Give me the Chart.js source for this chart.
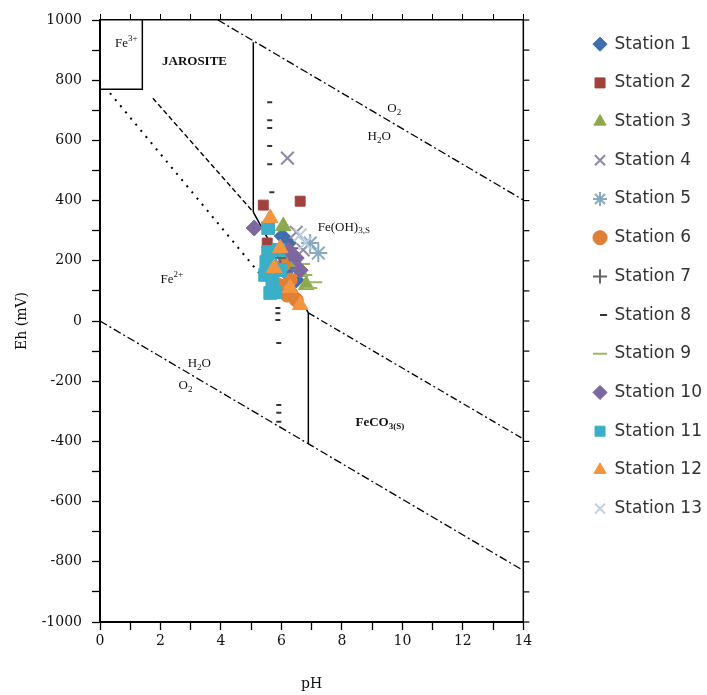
<!DOCTYPE html>
<html>
<head>
<meta charset="utf-8">
<script src="https://cdn.jsdelivr.net/npm/chart.js@4.4.1/dist/chart.umd.min.js"></script>
<style>
  body { margin: 0; background: #fff; }
  canvas { display: block; }
</style>
</head>
<body>
<canvas id="ehph" width="707" height="695"></canvas>
<script>
// field measurements, each pair is [pH, Eh in mV]
const station1 = [[6.23, 259], [6.36, 196], [6.13, 163], [6.49, 136], [6.03, 282]];
const station2 = [[5.40, 385], [6.62, 398], [5.53, 259]];
const station3 = [[6.06, 315], [6.29, 222], [6.62, 163], [6.82, 120], [6.46, 196]];
const station4 = [[6.20, 541], [6.49, 295], [6.72, 236]];
const station5 = [[7.22, 226], [6.95, 259]];
const station6 = [[6.06, 186], [6.29, 136], [6.49, 70], [5.89, 120], [6.19, 86]];
const station7 = [[5.96, 209], [6.36, 242]];
const station8 = [[5.53, 727], [5.53, 667], [5.53, 641], [5.53, 581], [5.53, 521], [5.60, 428],
                  [5.80, 43], [5.80, 26], [5.80, 3], [5.83, -73], [5.83, -279], [5.83, -305], [5.83, -335]];
const station9 = [[6.79, 153], [6.95, 110], [6.72, 189], [7.12, 129]];
const station10 = [[5.10, 309], [6.49, 209], [6.62, 169], [6.23, 236]];
const station11 = [[5.56, 309], [5.56, 229], [5.63, 186], [5.70, 136], [5.80, 96], [5.50, 196],
                   [5.96, 169], [5.90, 236], [5.46, 153], [5.63, 93]];
const station12 = [[5.63, 342], [5.96, 242], [6.29, 110], [6.62, 53], [5.76, 176]];
const station13 = [[6.79, 259], [6.62, 286]];

const stationNames = ['Station 1', 'Station 2', 'Station 3', 'Station 4', 'Station 5', 'Station 6', 'Station 7',
                      'Station 8', 'Station 9', 'Station 10', 'Station 11', 'Station 12', 'Station 13'];
const stationData = [station1, station2, station3, station4, station5, station6, station7,
                     station8, station9, station10, station11, station12, station13];

// stability field boundaries, [pH, Eh]
const fe3Boundary = [[0, 770], [1.4, 770], [1.4, 1000]];
const jarositeEdge = [[5.07, 926], [5.07, 362]];
const jarositeFe2 = [[1.75, 740], [5.07, 362]];
const fe2FeOH3 = [[5.07, 362], [6.89, 27]];
const feOH3FeCO3 = [[6.89, 27], [14, -392]];
const feCO3Fe2 = [[6.89, 27], [6.89, -408]];
const dottedEdge = [[0.33, 757], [5.4, 143]];
const waterUpper = [[3.9, 1000], [14, 402]];
const waterLower = [[0, 0], [14, -829]];

const xTicks = [0, 2, 4, 6, 8, 10, 12, 14];
const yTicks = [-1000, -800, -600, -400, -200, 0, 200, 400, 600, 800, 1000];

const toPts = arr => arr.map(p => ({x: p[0], y: p[1]}));

const looks = [
  {style: 'rectRot', color: '#3F6EAE', r: 8},
  {style: 'rect', color: '#A2403D', r: 7},
  {style: 'triangle', color: '#8EA84F', r: 9},
  {style: 'crossRot', color: '#8F88A6', r: 9, line: true},
  {style: 'star', color: '#86AABF', r: 9, line: true},
  {style: 'circle', color: '#E07F36', r: 7},
  {style: 'cross', color: '#666666', r: 6, line: true},
  {style: 'dash', color: '#333333', r: 5, line: true},
  {style: 'line', color: '#9BB85F', r: 7, line: true},
  {style: 'rectRot', color: '#7E67A0', r: 8},
  {style: 'rect', color: '#3BAFC8', r: 9},
  {style: 'triangle', color: '#F5953F', r: 9},
  {style: 'crossRot', color: '#BFCDE3', r: 9, line: true}
];

const datasets = stationData.map((d, i) => ({
  label: stationNames[i],
  data: toPts(d),
  pointStyle: looks[i].style,
  pointRadius: looks[i].r,
  pointHoverRadius: looks[i].r,
  backgroundColor: looks[i].color,
  borderColor: looks[i].color,
  borderWidth: looks[i].line ? 2 : 1,
  order: 13 - i
}));

function boundary(name, pts, dash, width) {
  return {
    label: name,
    data: toPts(pts),
    showLine: true,
    pointRadius: 0,
    borderColor: '#000',
    backgroundColor: '#000',
    borderWidth: width || 1.3,
    borderDash: dash,
    order: 20
  };
}
datasets.push(
  boundary('fe3', fe3Boundary, [], 1.5),
  boundary('jar', jarositeEdge, [], 1.5),
  boundary('jarfe2', jarositeFe2, [5, 3]),
  boundary('fe2oh', fe2FeOH3, [], 1.5),
  boundary('ohco3', feOH3FeCO3, [7, 3, 2, 3]),
  boundary('co3fe2', feCO3Fe2, [], 1.5),
  boundary('dots', dottedEdge, [2, 6], 2),
  boundary('o2', waterUpper, [8, 3, 2, 3]),
  boundary('h2', waterLower, [8, 3, 2, 3])
);

// labels of the stability fields
const fieldLabels = [
  {base: 'Fe', sup: '3+', x: 0.5, y: 923},
  {base: 'JAROSITE', x: 2.05, y: 863, bold: true},
  {base: 'O', sub: '2', x: 9.5, y: 707},
  {base: 'H', sub: '2', tail: 'O', x: 8.85, y: 614},
  {base: 'Fe(OH)', sub: '3,S', x: 7.2, y: 312},
  {base: 'Fe', sup: '2+', x: 2.0, y: 139},
  {base: 'H', sub: '2', tail: 'O', x: 2.9, y: -143},
  {base: 'O', sub: '2', x: 2.6, y: -216},
  {base: 'FeCO', sub: '3(S)', x: 8.45, y: -339, bold: true}
];

const fieldText = {
  id: 'fieldText',
  afterDatasetsDraw(chart) {
    const {ctx, scales, chartArea} = chart;
    ctx.save();
    // right frame with its tick marks, taken from the y scale
    ctx.strokeStyle = '#000';
    ctx.lineWidth = 1.5;
    ctx.beginPath();
    ctx.moveTo(chartArea.right, chartArea.top);
    ctx.lineTo(chartArea.right, chartArea.bottom);
    ctx.stroke();
    ctx.lineWidth = 1.2;
    scales.y.ticks.forEach(t => {
      const py = scales.y.getPixelForValue(t.value);
      ctx.beginPath();
      ctx.moveTo(chartArea.right, py);
      ctx.lineTo(chartArea.right + 6, py);
      ctx.stroke();
    });

    ctx.fillStyle = '#111';
    ctx.textBaseline = 'middle';
    ctx.textAlign = 'left';
    fieldLabels.forEach(l => {
      let px = scales.x.getPixelForValue(l.x);
      const py = scales.y.getPixelForValue(l.y);
      const w = l.bold ? 'bold ' : '';
      ctx.font = w + '13px "Liberation Serif"';
      ctx.fillText(l.base, px, py);
      px += ctx.measureText(l.base).width;
      if (l.sup) {
        ctx.font = w + '9px "Liberation Serif"';
        ctx.fillText(l.sup, px, py - 5);
        px += ctx.measureText(l.sup).width;
      }
      if (l.sub) {
        ctx.font = w + '9px "Liberation Serif"';
        ctx.fillText(l.sub, px, py + 4);
        px += ctx.measureText(l.sub).width;
      }
      if (l.tail) {
        ctx.font = w + '13px "Liberation Serif"';
        ctx.fillText(l.tail, px, py);
      }
    });
    ctx.restore();
  }
};

const tickFont = {family: '"DejaVu Serif"', size: 14};
const axisGrid = {drawOnChartArea: false, color: '#000', tickLength: 8, tickWidth: 1.3};

new Chart(document.getElementById('ehph'), {
  type: 'scatter',
  data: {datasets: datasets},
  options: {
    responsive: false,
    animation: false,
    layout: {padding: {top: 14, right: -5, left: 0, bottom: 0}},
    plugins: {
      tooltip: {enabled: false},
      legend: {
        position: 'right',
        align: 'start',
        labels: {
          usePointStyle: true,
          boxWidth: 12,
          boxHeight: 10,
          padding: 21.7,
          color: '#333',
          font: {family: '"DejaVu Sans"', size: 17},
          filter: item => item.text.startsWith('Station'),
          sort: (a, b) => a.datasetIndex - b.datasetIndex
        }
      }
    },
    scales: {
      x: {
        type: 'linear',
        position: 'bottom',
        min: 0, max: 14,
        afterFit: s => { s.height = 73; },
        border: {color: '#000', width: 2},
        grid: axisGrid,
        ticks: {
          stepSize: 1, color: '#111', font: tickFont, padding: 3,
          maxRotation: 0, autoSkip: false,
          callback: v => xTicks.includes(v) ? v : ''
        },
        title: {display: true, text: 'pH', color: '#111', font: {family: '"DejaVu Serif"', size: 14}, padding: {top: 0, bottom: 2.6}}
      },
      y: {
        type: 'linear',
        position: 'left',
        min: -1000, max: 1000,
        afterFit: s => { s.width = 100; },
        border: {color: '#000', width: 2},
        grid: axisGrid,
        ticks: {
          stepSize: 100, color: '#111', font: tickFont, padding: 10, autoSkip: false,
          callback: v => yTicks.includes(v) ? v : ''
        },
        title: {display: true, text: 'Eh (mV)', color: '#111', font: {family: '"DejaVu Serif"', size: 14}, padding: {top: 13.6, bottom: 0}}
      },
      xTop: {
        type: 'linear',
        position: 'top',
        min: 0, max: 14,
        afterFit: s => { s.height = 6; },
        border: {color: '#000', width: 1.5},
        grid: {drawOnChartArea: false, color: '#000', tickLength: 6},
        ticks: {stepSize: 1, display: false}
      },
      // hidden spacer between the plot and the legend
      yRight: {
        type: 'linear',
        position: 'right',
        display: false,
        min: -1000, max: 1000,
        afterFit: s => { s.width = 49; }
      }
    }
  },
  plugins: [fieldText]
});
</script>
</body>
</html>
